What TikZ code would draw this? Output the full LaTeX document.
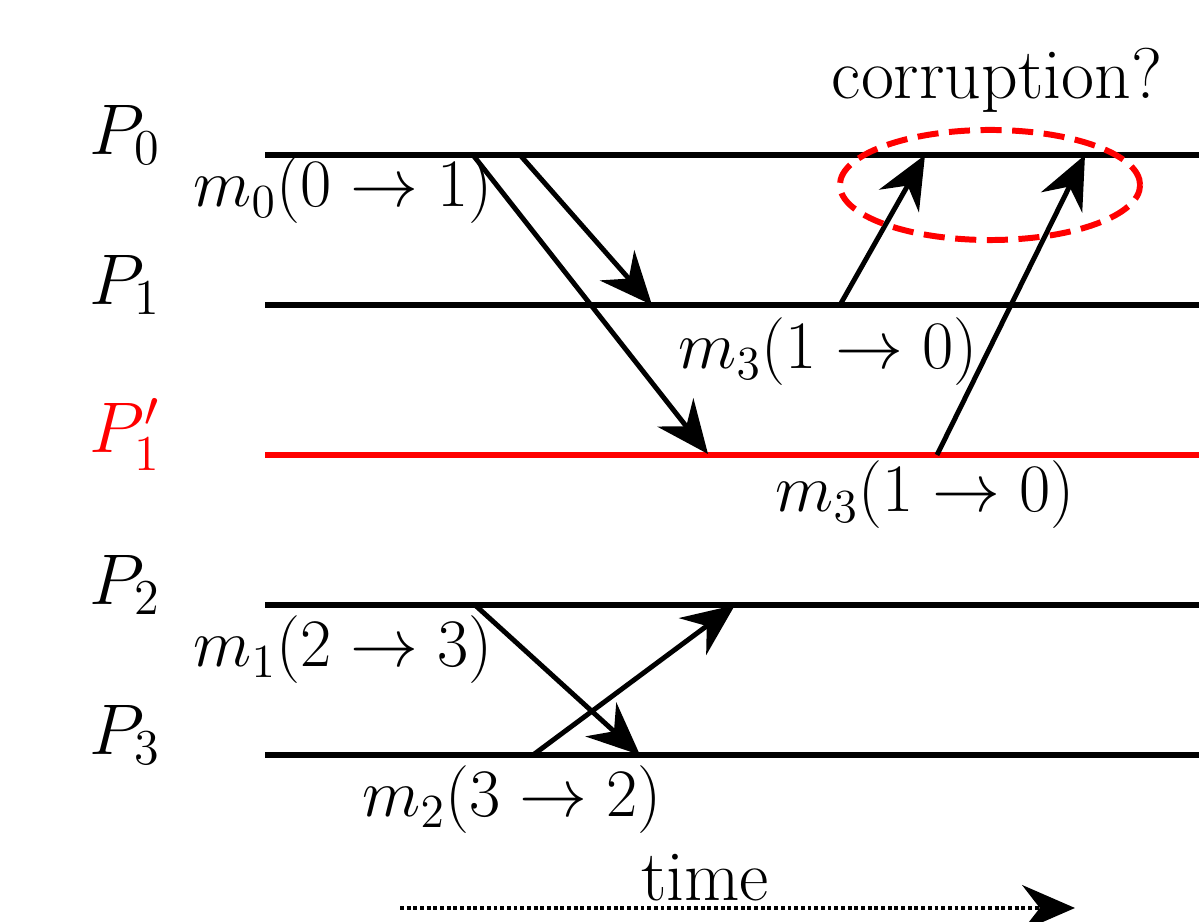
\RequirePackage{fix-cm}
\documentclass[tikz,border=0pt]{standalone}
\usepackage{amsmath}
\usepackage{xcolor}
\usetikzlibrary{arrows.meta, shapes.geometric}

\begin{document}
\begin{tikzpicture}[
    x=0.01cm, y=-0.01cm,
    lane/.style={line width=1.5pt, black},
    msg/.style={-{Stealth[length=15pt, width=13pt, inset=5pt]}, line width=1.4pt},
    txt/.style={font=\fontsize{19.3}{23}\selectfont, inner sep=0pt},
    word/.style={font=\fontsize{20.4}{24}\selectfont, inner sep=0pt},
    corrupt/.style={ellipse, draw=red, line width=1.7pt, dash pattern=on 6pt off 3pt, minimum width=3cm, minimum height=1.1cm},
    timeline/.style={-{Stealth[length=15pt, width=13pt, inset=5pt]}, line width=1.4pt, dash pattern=on 1.1pt off 0.8pt},
]
\useasboundingbox (0,0) rectangle (1199,922);

% process labels
\node[word] (lP0) at (125,135) {$P_0$};
\node[word] (lP1) at (125,285) {$P_1$};
\node[word, red] (lP1b) at (125,435) {$P_1'$};
\node[word] (lP2) at (125,585) {$P_2$};
\node[word] (lP3) at (125,735) {$P_3$};

% process lines
\coordinate (a0) at (265,155); \coordinate (b0) at (1199,155);
\coordinate (a1) at (265,305); \coordinate (b1) at (1199,305);
\coordinate (a1b) at (265,455); \coordinate (b1b) at (1199,455);
\coordinate (a2) at (265,605); \coordinate (b2) at (1199,605);
\coordinate (a3) at (265,755); \coordinate (b3) at (1199,755);
\draw[lane] (a0) -- (b0);
\draw[lane] (a1) -- (b1);
\draw[lane, red] (a1b) -- (b1b);
\draw[lane] (a2) -- (b2);
\draw[lane] (a3) -- (b3);

% message end points
\coordinate (m0s) at (473,155);  \coordinate (m0r) at (708,454);
\coordinate (m0s2) at (520,155); \coordinate (m0r2) at (652,305);
\coordinate (m3s) at (840,305);  \coordinate (m3r) at (925,155);
\coordinate (m3s2) at (937,455); \coordinate (m3r2) at (1085,155);
\coordinate (m1s) at (475,605);  \coordinate (m1r) at (640,755);
\coordinate (m2s) at (533,755);  \coordinate (m2r) at (735,605);

\draw[msg] (m0s) -- (m0r);
\draw[msg] (m0s2) -- (m0r2);
\draw[msg] (m3s) -- (m3r);
\draw[msg] (m3s2) -- (m3r2);
\draw[msg] (m1s) -- (m1r);
\draw[msg] (m2s) -- (m2r);

% message labels
\node[txt] (lm0) at (343,190) {$m_0(0 \rightarrow 1)$};
\node[txt] (lm3) at (828,352) {$m_3(1 \rightarrow 0)$};
\node[txt] (lm3b) at (925,495) {$m_3(1 \rightarrow 0)$};
\node[txt] (lm1) at (343,650) {$m_1(2 \rightarrow 3)$};
\node[txt] (lm2) at (512,800) {$m_2(3 \rightarrow 2)$};

% corruption
\node[corrupt] (corr) at (990,185) {};
\node[word] (lcorr) at (997,80) {corruption?};

% time axis
\coordinate (t0) at (400,908); \coordinate (t1) at (1075,908);
\draw[timeline] (t0) -- (t1);
\node[word] (ltime) at (705,878) {time};

\end{tikzpicture}
\end{document}
